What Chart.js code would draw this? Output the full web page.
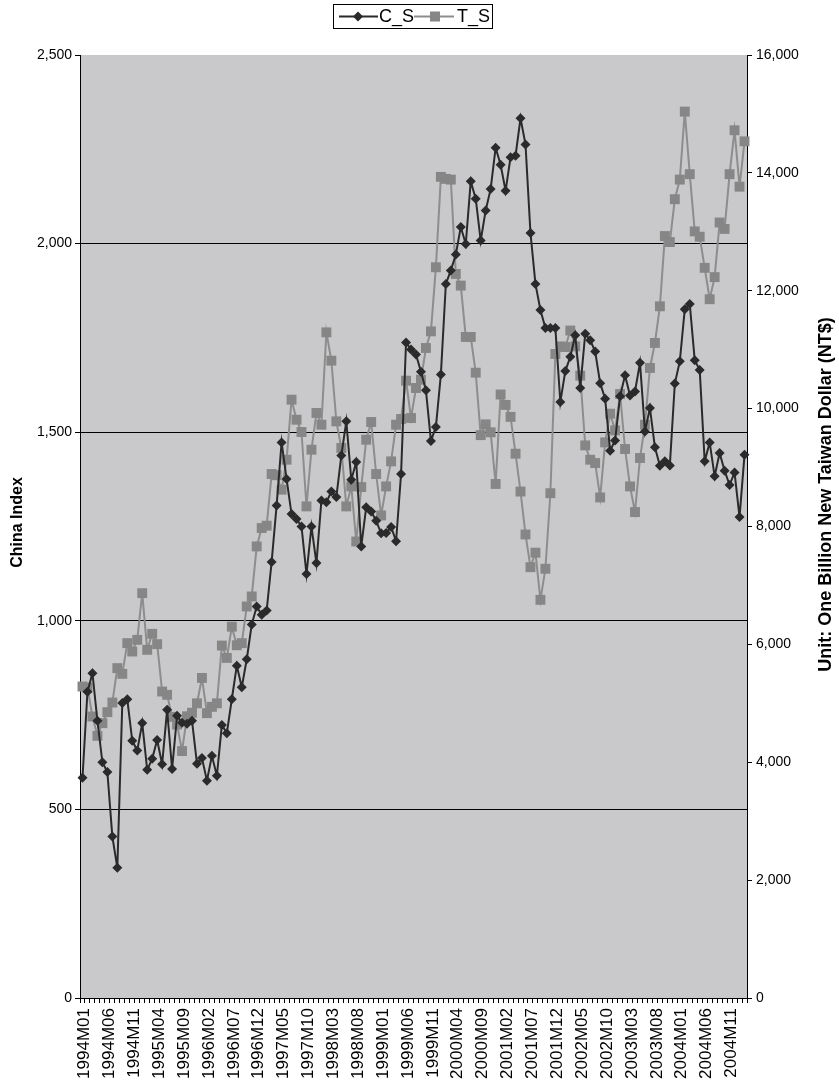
<!DOCTYPE html>
<html>
<head>
<meta charset="utf-8">
<title>C_S and T_S monthly</title>
<script src="https://cdn.jsdelivr.net/npm/chart.js@4.4.1/dist/chart.umd.min.js"></script>
<style>
  html, body { margin: 0; padding: 0; background: #ffffff; }
  #wrap { position: relative; width: 839px; height: 1092px; }
</style>
</head>
<body>
<div id="wrap"><canvas id="chart" width="839" height="1092"></canvas></div>
<script>
// Monthly categories, 1994M01 onwards
const firstYear = 1994;
const monthCount = 134;
const months = [];
for (let k = 0; k < monthCount; k++) {
  const yr = firstYear + Math.floor(k / 12);
  const mo = (k % 12) + 1;
  months.push(yr + 'M' + String(mo).padStart(2, '0'));
}

// C_S: China index (left axis)
const chinaIndex = [
  584, 812, 861, 735, 625, 599, 428, 345, 782, 792,
  682, 656, 729, 605, 634, 684, 620, 764, 607, 748,
  730, 727, 735, 621, 636, 576, 642, 589, 724, 702,
  792, 881, 824, 898, 990, 1038, 1016, 1027, 1156, 1306,
  1473, 1376, 1283, 1270, 1250, 1124, 1250, 1153, 1319, 1314,
  1343, 1328, 1438, 1529, 1374, 1421, 1197, 1301, 1290, 1265,
  1232, 1233, 1249, 1211, 1389, 1738, 1719, 1706, 1660, 1611,
  1477, 1514, 1653, 1893, 1929, 1971, 2044, 1999, 2165, 2119,
  2008, 2088, 2145, 2254, 2209, 2140, 2229, 2233, 2332, 2263,
  2028, 1893, 1824, 1776, 1776, 1776, 1580, 1662, 1700, 1757,
  1617, 1761, 1744, 1714, 1630, 1589, 1451, 1478, 1595, 1651,
  1597, 1608, 1684, 1502, 1564, 1460, 1411, 1423, 1412, 1629,
  1688, 1826, 1840, 1691, 1665, 1423, 1473, 1383, 1445, 1398,
  1360, 1393, 1275, 1440
];

// T_S: one billion NT$ (right axis)
const taiwanValue = [
  5285, 5268, 4776, 4448, 4663, 4850, 5013, 5597, 5500, 6021,
  5879, 6077, 6869, 5908, 6179, 6004, 5200, 5144, 4770, 4640,
  4190, 4780, 4840, 5000, 5430, 4833, 4940, 5000, 5980, 5770,
  6300, 5985, 6021, 6643, 6813, 7662, 7974, 8014, 8890, 8870,
  8624, 9133, 10152, 9812, 9603, 8341, 9303, 9926, 9727, 11294,
  10814, 9784, 9332, 8341, 8680, 7746, 8669, 9473, 9773, 8890,
  8188, 8680, 9105, 9727, 9824, 10474, 9841, 10350, 10491, 11029,
  11311, 12398, 13932, 13898, 13886, 12285, 12087, 11216, 11216, 10610,
  9550, 9733, 9598, 8722, 10240, 10063, 9860, 9235, 8593, 7865,
  7310, 7556, 6756, 7283, 8565, 10928, 11056, 11045, 11325, 11056,
  10559, 9376, 9133, 9077, 8493, 9427, 9914, 9631, 10248, 9315,
  8680, 8245, 9162, 9727, 10690, 11114, 11736, 12928, 12826, 13553,
  13886, 15039, 13978, 13007, 12917, 12389, 11856, 12231, 13158, 13049,
  13978, 14723, 13766, 14535
];

// Axis ranges and tick steps
const leftRange = [0, 2500];
const leftStep = 500;
const rightRange = [0, 16000];
const rightStep = 2000;
const labelEvery = 5;

const seriesNames = ['C_S', 'T_S'];
const leftTitle = 'China Index';
const rightTitle = 'Unit: One Billion New Taiwan Dollar (NT$)';

const FONT = "'Liberation Sans', Arial, Helvetica, sans-serif";
const DARK = '#2a2a2a';
const GREY_LINE = '#8d8d8d';
const GREY_MARK = '#868686';
const PLOT_BG = '#c9c9cb';

Chart.defaults.font.family = FONT;
Chart.defaults.font.size = 17;
Chart.defaults.color = '#000';

const fmt = v => Number(v).toLocaleString('en-US');

// grey plot background, white page
const backdrop = {
  id: 'backdrop',
  beforeDraw(chart) {
    const { ctx, chartArea: a } = chart;
    ctx.save();
    ctx.fillStyle = '#ffffff';
    ctx.fillRect(0, 0, chart.width, chart.height);
    ctx.fillStyle = PLOT_BG;
    ctx.fillRect(a.left, a.top, a.right - a.left, a.bottom - a.top);
    ctx.restore();
  }
};

// both axis titles read bottom-to-top
const axisTitles = {
  id: 'axisTitles',
  afterDraw(chart) {
    const { ctx } = chart;
    const yl = chart.scales.y, yr = chart.scales.y1;
    ctx.save();
    ctx.fillStyle = '#000';
    ctx.font = 'bold 16px ' + FONT;
    ctx.textAlign = 'center';
    ctx.textBaseline = 'middle';
    ctx.translate(18, (yl.top + yl.bottom) / 2 - 4);
    ctx.rotate(-Math.PI / 2);
    ctx.fillText(leftTitle, 0, 0);
    ctx.restore();

    ctx.save();
    ctx.fillStyle = '#000';
    ctx.font = 'bold 18px ' + FONT;
    ctx.textAlign = 'center';
    ctx.textBaseline = 'middle';
    ctx.translate(826, (yr.top + yr.bottom) / 2 - 32);
    ctx.rotate(-Math.PI / 2);
    ctx.fillText(rightTitle, 0, 0);
    ctx.restore();
  }
};

// boxed legend with line-and-marker samples
const boxedLegend = {
  id: 'boxedLegend',
  afterDraw(chart) {
    const { ctx } = chart;
    const ds = chart.data.datasets;
    ctx.save();
    ctx.fillStyle = '#ffffff';
    ctx.fillRect(333, 4, 159, 24);
    ctx.strokeStyle = '#000';
    ctx.lineWidth = 1;
    ctx.strokeRect(333.5, 4.5, 159, 24);
    const cy = 16.5;
    ctx.font = '18px ' + FONT;
    ctx.textBaseline = 'middle';
    ctx.textAlign = 'left';

    // C_S sample
    ctx.strokeStyle = ds[0].borderColor;
    ctx.lineWidth = 2;
    ctx.beginPath(); ctx.moveTo(339, cy); ctx.lineTo(378, cy); ctx.stroke();
    ctx.fillStyle = ds[0].pointBackgroundColor;
    ctx.beginPath();
    ctx.moveTo(358, cy - 5); ctx.lineTo(363, cy); ctx.lineTo(358, cy + 5); ctx.lineTo(353, cy);
    ctx.closePath(); ctx.fill();
    ctx.fillStyle = '#000';
    ctx.fillText(ds[0].label, 379, cy + 1);

    // T_S sample
    ctx.strokeStyle = ds[1].borderColor;
    ctx.lineWidth = 2;
    ctx.beginPath(); ctx.moveTo(414, cy); ctx.lineTo(454, cy); ctx.stroke();
    ctx.fillStyle = ds[1].pointBackgroundColor;
    ctx.fillRect(430, cy - 5, 10, 10);
    ctx.fillStyle = '#000';
    ctx.fillText(ds[1].label, 457, cy + 1);
    ctx.restore();
  }
};

new Chart(document.getElementById('chart').getContext('2d'), {
  type: 'line',
  data: {
    labels: months,
    datasets: [
      {
        label: seriesNames[0],
        data: chinaIndex,
        yAxisID: 'y',
        borderColor: DARK,
        backgroundColor: DARK,
        pointBackgroundColor: DARK,
        pointBorderColor: DARK,
        borderWidth: 2,
        pointStyle: 'rectRot',
        pointRadius: 5,
        pointBorderWidth: 0,
        tension: 0,
        order: 1
      },
      {
        label: seriesNames[1],
        data: taiwanValue,
        yAxisID: 'y1',
        borderColor: GREY_LINE,
        backgroundColor: GREY_MARK,
        pointBackgroundColor: GREY_MARK,
        pointBorderColor: GREY_MARK,
        borderWidth: 2,
        pointStyle: 'rect',
        pointRadius: 7,
        pointBorderWidth: 0,
        tension: 0,
        order: 2
      }
    ]
  },
  options: {
    responsive: false,
    animation: false,
    events: [],
    layout: { padding: { left: 0, right: 0, top: 55, bottom: 0 } },
    plugins: { legend: { display: false }, tooltip: { enabled: false }, title: { display: false } },
    scales: {
      x: {
        type: 'category',
        offset: true,
        grid: {
          display: true, offset: true, drawOnChartArea: false,
          drawTicks: true, tickLength: 5, tickColor: '#000', tickWidth: 1
        },
        border: { display: true, color: '#000', width: 1 },
        ticks: {
          autoSkip: false, maxRotation: 90, minRotation: 90, padding: 5, labelOffset: 2,
          font: { size: 17 },
          callback: (v, i) => (i % labelEvery === 0 ? months[i] : '')
        },
        afterFit: s => { s.height = 94; }
      },
      y: {
        position: 'left',
        min: leftRange[0], max: leftRange[1],
        ticks: { stepSize: leftStep, padding: 3, font: { size: 14 }, callback: v => fmt(v) },
        grid: {
          color: c => (c.tick && c.tick.value > leftRange[0] && c.tick.value < leftRange[1]) ? '#000' : 'rgba(0,0,0,0)',
          lineWidth: 1, tickLength: 5, tickColor: '#000', drawTicks: true
        },
        border: { display: true, color: '#000', width: 1 },
        afterFit: s => { s.width = 80; }
      },
      y1: {
        position: 'right',
        min: rightRange[0], max: rightRange[1],
        ticks: { stepSize: rightStep, padding: 4, font: { size: 14 }, callback: v => fmt(v) },
        grid: { drawOnChartArea: false, tickLength: 5, tickColor: '#000', drawTicks: true },
        border: { display: true, color: '#000', width: 1 },
        afterFit: s => { s.width = 92; }
      }
    }
  },
  plugins: [backdrop, axisTitles, boxedLegend]
});
</script>
</body>
</html>
